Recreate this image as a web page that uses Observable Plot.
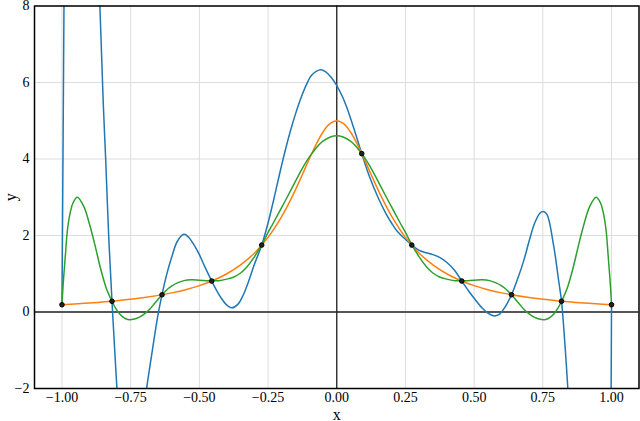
<!DOCTYPE html>
<html><head><meta charset="utf-8">
<script src="https://cdn.jsdelivr.net/npm/d3@7"></script>
<script src="https://cdn.jsdelivr.net/npm/@observablehq/plot@0.6"></script>
<style>
body{margin:0;background:#fff}
#c svg, #c svg text{font-family:"Liberation Serif","DejaVu Serif",serif !important;}
</style>
</head><body><div id="c"></div><script>
const xTicks = [-1, -0.75, -0.5, -0.25, 0, 0.25, 0.5, 0.75, 1];
const yTicks = [-2, 0, 2, 4, 6, 8];

const nodeX = [-1, -0.818, -0.636, -0.455, -0.273, 0.091, 0.273, 0.455, 0.636, 0.818, 1];
const nodeY = [0.19, 0.28, 0.45, 0.81, 1.75, 4.14, 1.75, 0.81, 0.45, 0.28, 0.19];

const orangeX = [-1, -0.9, -0.8, -0.7, -0.6, -0.55, -0.5, -0.45, -0.4, -0.35, -0.3, -0.25, -0.2, -0.175, -0.15, -0.125, -0.1, -0.075, -0.05, -0.025, 0,
  0.025, 0.05, 0.075, 0.1, 0.125, 0.15, 0.175, 0.2, 0.25, 0.3, 0.35, 0.4, 0.45, 0.5, 0.55, 0.6, 0.7, 0.8, 0.9, 1];
const orangeY = [0.19, 0.235, 0.294, 0.377, 0.5, 0.584, 0.69, 0.825, 1.0, 1.231, 1.538, 1.951, 2.5, 2.832, 3.2, 3.596, 4.0, 4.384, 4.706, 4.923, 5.0,
  4.923, 4.706, 4.384, 4.0, 3.596, 3.2, 2.832, 2.5, 1.951, 1.538, 1.231, 1.0, 0.825, 0.69, 0.584, 0.5, 0.377, 0.294, 0.235, 0.19];

const greenX = [-1, -0.995, -0.988, -0.98, -0.97, -0.96, -0.944, -0.92, -0.9, -0.88, -0.86, -0.84, -0.818, -0.805, -0.79, -0.77, -0.756, -0.74, -0.72, -0.7, -0.68, -0.66, -0.636, -0.62, -0.6, -0.58, -0.556, -0.53, -0.5, -0.455, -0.43, -0.4, -0.376, -0.35, -0.328, -0.3, -0.273, -0.25, -0.23, -0.2, -0.182, -0.15, -0.12, -0.091, -0.05, 0,
  0.05, 0.091, 0.12, 0.15, 0.182, 0.2, 0.23, 0.25, 0.273, 0.3, 0.328, 0.35, 0.376, 0.4, 0.43, 0.455, 0.5, 0.53, 0.556, 0.58, 0.6, 0.62, 0.636, 0.66, 0.68, 0.7, 0.72, 0.74, 0.756, 0.77, 0.79, 0.805, 0.818, 0.84, 0.86, 0.88, 0.9, 0.92, 0.944, 0.96, 0.97, 0.98, 0.988, 0.995, 1];
const greenY = [0.19, 0.8, 1.45, 2.15, 2.6, 2.85, 3.0, 2.75, 2.3, 1.75, 1.15, 0.65, 0.28, 0.1, -0.05, -0.17, -0.2, -0.19, -0.14, -0.05, 0.08, 0.25, 0.45, 0.57, 0.68, 0.76, 0.82, 0.84, 0.83, 0.815, 0.82, 0.86, 0.91, 1.02, 1.17, 1.44, 1.76, 2.08, 2.34, 2.74, 2.98, 3.42, 3.82, 4.14, 4.47, 4.61,
  4.47, 4.14, 3.82, 3.42, 2.98, 2.74, 2.34, 2.08, 1.76, 1.44, 1.17, 1.02, 0.91, 0.86, 0.82, 0.815, 0.83, 0.84, 0.82, 0.76, 0.68, 0.57, 0.45, 0.25, 0.08, -0.05, -0.14, -0.19, -0.2, -0.17, -0.05, 0.1, 0.28, 0.65, 1.15, 1.75, 2.3, 2.75, 3.0, 2.85, 2.6, 2.15, 1.45, 0.8, 0.19];

const blueX = [-1, -0.998, -0.996, -0.993, -0.99, -0.985, -0.975, -0.96, -0.94, -0.92, -0.9, -0.88, -0.862, -0.85, -0.841, -0.83, -0.818, -0.81, -0.8, -0.79, -0.77, -0.75, -0.73, -0.71, -0.692, -0.67, -0.65, -0.636, -0.62, -0.6, -0.58, -0.556, -0.54, -0.52, -0.5, -0.48, -0.455, -0.44, -0.42, -0.4, -0.382, -0.36, -0.34, -0.32, -0.3, -0.273, -0.25, -0.23, -0.21, -0.19, -0.17, -0.15, -0.13, -0.11, -0.09, -0.061, -0.04, -0.02, 0, 0.02, 0.036, 0.061, 0.091, 0.12, 0.15, 0.18, 0.2, 0.22, 0.25, 0.273, 0.3, 0.325, 0.35, 0.376, 0.4, 0.43, 0.455, 0.48, 0.5, 0.53, 0.55, 0.57, 0.59, 0.61, 0.636, 0.66, 0.68, 0.7, 0.72, 0.74, 0.752, 0.765, 0.789, 0.807, 0.818, 0.83, 0.841, 0.85, 0.87, 0.9, 0.93, 0.96, 0.98, 0.99, 0.995, 0.9985, 1];
const blueY = [0.19, 2.3, 4.4, 7.7, 10.8, 15.5, 22, 28, 30, 27.5, 21.5, 14, 8, 5.5, 4, 2.0, 0.28, -0.75, -2.0, -3.1, -4.3, -4.7, -4.1, -3.0, -2.0, -0.95, -0.05, 0.45, 0.95, 1.45, 1.85, 2.03, 1.96, 1.76, 1.5, 1.18, 0.81, 0.6, 0.36, 0.18, 0.11, 0.2, 0.45, 0.82, 1.24, 1.75, 2.33, 2.92, 3.55, 4.15, 4.7, 5.18, 5.6, 5.95, 6.2, 6.33, 6.28, 6.13, 5.92, 5.64, 5.36, 4.83, 4.14, 3.52, 3.0, 2.56, 2.32, 2.11, 1.9, 1.75, 1.61, 1.55, 1.5, 1.42, 1.3, 1.08, 0.81, 0.55, 0.36, 0.1, -0.03, -0.1, -0.07, 0.1, 0.45, 0.9, 1.33, 1.85, 2.32, 2.59, 2.63, 2.55, 1.75, 0.85, 0.28, -0.8, -2.0, -3.1, -6.5, -13, -19, -21, -15, -9, -5, -2, 0.19];

const toRows = (xs, ys) => xs.map((x, i) => ({x, y: ys[i]}));
const blue = toRows(blueX, blueY);
const orange = toRows(orangeX, orangeY);
const green = toRows(greenX, greenY);
const nodes = toRows(nodeX, nodeY);

const chart = Plot.plot({
  width: 640,
  height: 421,
  marginLeft: 34,
  marginRight: 1.5,
  marginTop: 5.5,
  marginBottom: 33,
  style: {fontFamily: '"Liberation Serif", "DejaVu Serif", serif', fontSize: "14px", background: "#fff", color: "#000"},
  x: {domain: [-1.1, 1.1], ticks: xTicks, tickFormat: d3.format(".2f"), label: "x", labelAnchor: "center", labelArrow: "none", labelOffset: 31, tickSize: 0, tickPadding: 4},
  y: {domain: [-2, 8], ticks: yTicks, tickFormat: d3.format("d"), label: "y", labelAnchor: "center", labelArrow: "none", labelOffset: 30, tickSize: 0, tickPadding: 5},
  marks: [
    Plot.gridX(xTicks, {stroke: "#dddddd", strokeOpacity: 1, strokeWidth: 1}),
    Plot.gridY(yTicks, {stroke: "#dddddd", strokeOpacity: 1, strokeWidth: 1}),
    Plot.ruleY([0], {stroke: "#222", strokeWidth: 1.3}),
    Plot.ruleX([0], {stroke: "#222", strokeWidth: 1.3}),
    Plot.line(blue, {x: "x", y: "y", stroke: "#1f77b4", strokeWidth: 1.5, curve: "catmull-rom", clip: true}),
    Plot.line(orange, {x: "x", y: "y", stroke: "#ff7f0e", strokeWidth: 1.5, curve: "catmull-rom", clip: true}),
    Plot.line(green, {x: "x", y: "y", stroke: "#2ca02c", strokeWidth: 1.5, curve: "catmull-rom", clip: true}),
    Plot.dot(nodes, {x: "x", y: "y", r: 2.3, fill: "#222", stroke: "#000", strokeWidth: 1}),
    Plot.frame({stroke: "#000", strokeWidth: 1.5})
  ]
});
chart.querySelectorAll("g[aria-label='x-axis label'] text, g[aria-label='y-axis label'] text").forEach(t => t.style.fontSize = "16px");
document.getElementById("c").appendChild(chart);
</script></body></html>
